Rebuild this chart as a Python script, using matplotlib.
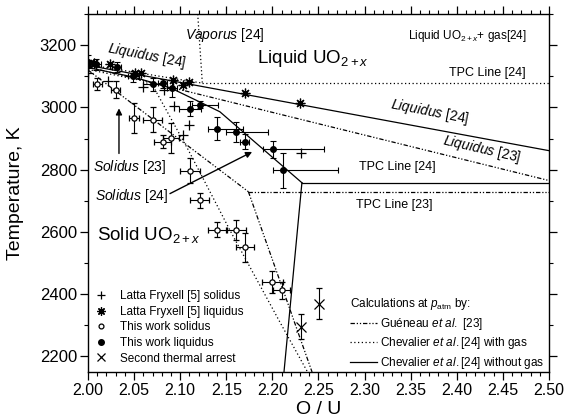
import matplotlib
matplotlib.use("Agg")
import matplotlib.pyplot as plt
from matplotlib.lines import Line2D
import numpy as np

plt.rcParams['font.family'] = ['Liberation Sans', 'DejaVu Sans']
plt.rcParams['mathtext.fontset'] = 'custom'
plt.rcParams['mathtext.rm'] = 'Liberation Sans'
plt.rcParams['mathtext.it'] = 'Liberation Sans:italic'
plt.rcParams['mathtext.bf'] = 'Liberation Sans:bold'

# ---- measured points ----
# Latta & Fryxell solidus (+)
lf_sol_ou = [2.000, 2.022, 2.060, 2.082, 2.093, 2.103, 2.110, 2.231]
lf_sol_T = [3112, 3085, 3064, 3055, 3004, 2910, 2943, 2852]

# Latta & Fryxell liquidus (asterisk)
lf_liq_ou = [2.000, 2.007, 2.024, 2.051, 2.058, 2.092, 2.103, 2.110, 2.170, 2.230]
lf_liq_T = [3140, 3143, 3139, 3109, 3111, 3088, 3071, 3080, 3047, 3014]

# This work, solidus (open circles)
tw_sol_ou = [2.010, 2.030, 2.050, 2.070, 2.081, 2.090, 2.111, 2.121, 2.140, 2.161, 2.170, 2.200, 2.210]
tw_sol_T = [3075, 3057, 2966, 2961, 2889, 2903, 2796, 2702, 2607, 2607, 2550, 2439, 2412]
tw_sol_xerr = [0.005, 0.005, 0.005, 0.010, 0.009, 0.009, 0.011, 0.010, 0.010, 0.010, 0.010, 0.011, 0.009]
tw_sol_Terr = [19, 27, 49, 39, 21, 48, 40, 24, 24, 32, 48, 36, 28]

# This work, liquidus (filled circles)
tw_liq_ou = [2.000, 2.009, 2.031, 2.049, 2.070, 2.081, 2.091, 2.111, 2.121, 2.140, 2.160, 2.170, 2.201, 2.211]
tw_liq_T = [3146, 3138, 3130, 3100, 3074, 3077, 3061, 2996, 3009, 2932, 2921, 2890, 2866, 2798]
tw_liq_xerr_lo = [0.005, 0.005, 0.005, 0.006, 0.010, 0.005, 0.005, 0.012, 0.008, 0.010, 0.010, 0.005, 0.011, 0.010]
tw_liq_xerr_hi = [0.005, 0.005, 0.005, 0.006, 0.010, 0.005, 0.005, 0.012, 0.020, 0.028, 0.035, 0.005, 0.055, 0.060]
tw_liq_Terr = [21, 18, 17, 17, 20, 15, 27, 24, 10, 37, 32, 24, 27, 56]

# Second thermal arrest (x)
arr_ou = [2.231, 2.250]
arr_T = [2296, 2369]
arr_Terr = [40, 50]

# ---- calculated phase boundaries ----
# Chevalier et al. [24] without gas (solid)
chev_liq_ou = [2.00, 2.50]
chev_liq_T = [3135, 2861]
chev_sol_ou = [2.00, 2.05, 2.09, 2.125, 2.143, 2.232]
chev_sol_T = [3128, 3097, 3062, 3012, 2986, 2758]
chev_tpc_ou = [2.232, 2.50]
chev_tpc_T = [2758, 2758]
chev_low_ou = [2.232, 2.2125]
chev_low_T = [2758, 2148]

# Chevalier et al. [24] with gas (dotted)
chevg_vap_ou = [2.119, 2.124]
chevg_vap_T = [3300, 3078]
chevg_tpc_ou = [2.124, 2.50]
chevg_tpc_T = [3078, 3078]
chevg_liq_ou = [2.00, 2.124]
chevg_liq_T = [3137, 3078]
chevg_sol_ou = [2.00, 2.06, 2.071, 2.109, 2.154, 2.208, 2.240]
chevg_sol_T = [3122, 3085, 3066, 2862, 2605, 2311, 2140]

# Gueneau et al. [23] (dash-dot)
guen_liq_ou = [2.00, 2.50]
guen_liq_T = [3130, 2765]
guen_sol_ou = [2.00, 2.174]
guen_sol_T = [3120, 2729]
guen_tpc_ou = [2.174, 2.50]
guen_tpc_T = [2729, 2729]
guen_low_ou = [2.174, 2.243]
guen_low_T = [2729, 2150]

fig = plt.figure(figsize=(5.68, 4.2), dpi=100)
ax = fig.add_axes([88/568, 1-372/420, 461/568, 358/420])

lw = 0.9
solid = dict(color='black', lw=lw, ls='-')
dotted = dict(color='black', lw=lw, ls=(0, (1.0, 2.0)))
dashdot = dict(color='black', lw=lw, ls=(0, (3.5, 1.5, 1.0, 1.5, 1.0, 1.5)))

for xs, ys in [(chev_liq_ou, chev_liq_T), (chev_sol_ou, chev_sol_T),
               (chev_tpc_ou, chev_tpc_T), (chev_low_ou, chev_low_T)]:
    ax.plot(xs, ys, **solid)
for xs, ys in [(chevg_vap_ou, chevg_vap_T), (chevg_tpc_ou, chevg_tpc_T),
               (chevg_liq_ou, chevg_liq_T), (chevg_sol_ou, chevg_sol_T)]:
    ax.plot(xs, ys, **dotted)
for xs, ys in [(guen_liq_ou, guen_liq_T), (guen_sol_ou, guen_sol_T),
               (guen_tpc_ou, guen_tpc_T), (guen_low_ou, guen_low_T)]:
    ax.plot(xs, ys, **dashdot)

ebk = dict(ecolor='black', elinewidth=0.8, capsize=2.5, capthick=0.8, ls='none')

ax.errorbar(tw_liq_ou, tw_liq_T, yerr=tw_liq_Terr,
            xerr=[tw_liq_xerr_lo, tw_liq_xerr_hi],
            marker='o', ms=4, mfc='black', mec='black', zorder=4, **ebk)
ax.errorbar(tw_sol_ou, tw_sol_T, yerr=tw_sol_Terr, xerr=tw_sol_xerr,
            marker='o', ms=3.8, mfc='white', mec='black', mew=0.9, zorder=4, **ebk)
ax.errorbar(arr_ou, arr_T, yerr=arr_Terr, marker='x', ms=7, mec='black',
            mew=0.9, zorder=4, **ebk)
ax.plot(lf_sol_ou, lf_sol_T, ls='none', marker='+', ms=6.5, mew=0.9, color='black', zorder=5)
ax.plot(lf_liq_ou, lf_liq_T, ls='none', marker=(8, 2, 0), ms=7, mew=0.9, color='black', zorder=5)

ax.set_xlim(2.00, 2.50)
ax.set_ylim(2150, 3300)
ax.set_xticks(np.arange(2.00, 2.501, 0.05))
ax.set_xticks(np.arange(2.00, 2.501, 0.01), minor=True)
ax.set_yticks(np.arange(2200, 3201, 200))
ax.set_yticks(np.arange(2200, 3301, 100), minor=True)
ax.xaxis.set_major_formatter(matplotlib.ticker.FormatStrFormatter('%.2f'))
ax.tick_params(which='both', direction='out', top=True, right=True, labelsize=12, pad=2)
ax.tick_params(axis='x', labelsize=11.5)
ax.tick_params(which='major', length=6, width=0.9)
ax.tick_params(which='minor', length=3, width=0.8)
for s in ax.spines.values():
    s.set_linewidth(1.0)

ax.set_xlabel('O / U', fontsize=14, labelpad=2)
ax.set_ylabel('Temperature, K', fontsize=14)
ax.yaxis.set_label_coords(-0.138, 0.5)

# region / curve labels
ax.text(2.064, 3165, r'$\mathit{Liquidus}$ [24]', fontsize=10, rotation=-11, ha='center', va='center')
ax.text(2.1486, 3232, r'$\mathit{Vaporus}$ [24]', fontsize=10, ha='center', va='center')
ax.text(2.244, 3142, r'Liquid UO$_{2+x}$', fontsize=13.5, ha='center', va='baseline')
ax.text(2.412, 3219, r'Liquid UO$_{2+x}$+ gas[24]', fontsize=8.5, ha='center', va='baseline')
ax.text(2.433, 3100, 'TPC Line [24]', fontsize=9, ha='center', va='baseline')
ax.text(2.371, 2985, r'$\mathit{Liquidus}$ [24]', fontsize=10, rotation=-11, ha='center', va='center')
ax.text(2.427, 2866, r'$\mathit{Liquidus}$ [23]', fontsize=10, rotation=-13, ha='center', va='center')
ax.text(2.336, 2800, 'TPC Line [24]', fontsize=9, ha='center', va='baseline')
ax.text(2.332, 2677, 'TPC Line [23]', fontsize=9, ha='center', va='baseline')
ax.text(2.0456, 2796, r'$\mathit{Solidus}$ [23]', fontsize=10, ha='center', va='baseline')
ax.text(2.047, 2702, r'$\mathit{Solidus}$ [24]', fontsize=10, ha='center', va='baseline')
ax.text(2.066, 2575, r'Solid UO$_{2+x}$', fontsize=13.5, ha='center', va='baseline')

arrowprops = dict(arrowstyle='-|>', color='black', lw=1.0, mutation_scale=9, shrinkA=0, shrinkB=0)
ax.annotate('', xy=(2.0336, 2997), xytext=(2.0336, 2852), arrowprops=arrowprops)
ax.annotate('', xy=(2.178, 2857), xytext=(2.0889, 2723), arrowprops=arrowprops)

# symbol legend
sym_handles = [
    Line2D([], [], ls='none', marker='+', ms=5.5, mew=0.9, color='black'),
    Line2D([], [], ls='none', marker=(8, 2, 0), ms=6, mew=0.9, color='black'),
    Line2D([], [], ls='none', marker='o', ms=3.5, mfc='white', mec='black', mew=0.9),
    Line2D([], [], ls='none', marker='o', ms=4, mfc='black', mec='black'),
    Line2D([], [], ls='none', marker='x', ms=5.5, mew=0.9, color='black'),
]
sym_labels = ['Latta Fryxell [5] solidus', 'Latta Fryxell [5] liquidus',
              'This work solidus', 'This work liquidus', 'Second thermal arrest']
leg1 = ax.legend(sym_handles, sym_labels, loc='upper left', bbox_to_anchor=(0.0147, 0.228),
                 frameon=False, fontsize=8.5, handlelength=1.0, handletextpad=1.1,
                 labelspacing=0.3, borderpad=0, borderaxespad=0)
ax.add_artist(leg1)

line_handles = [
    Line2D([], [], **dashdot),
    Line2D([], [], **dotted),
    Line2D([], [], **solid),
]
line_labels = [r'Guéneau $\mathit{et\ al.}$ [23]',
               r'Chevalier $\mathit{et\ al.}$[24] with gas',
               r'Chevalier $\mathit{et\ al.}$[24] without gas']
leg2 = ax.legend(line_handles, line_labels, loc='upper left', bbox_to_anchor=(0.568, 0.212),
                 frameon=False, fontsize=8.5, handlelength=2.3, handletextpad=0.25,
                 labelspacing=0.3, borderpad=0, borderaxespad=0,
                 title=r'Calculations at $p_{\rm atm}$ by:', title_fontsize=8.5,
                 alignment='left')

fig.savefig('out.png', dpi=100)
